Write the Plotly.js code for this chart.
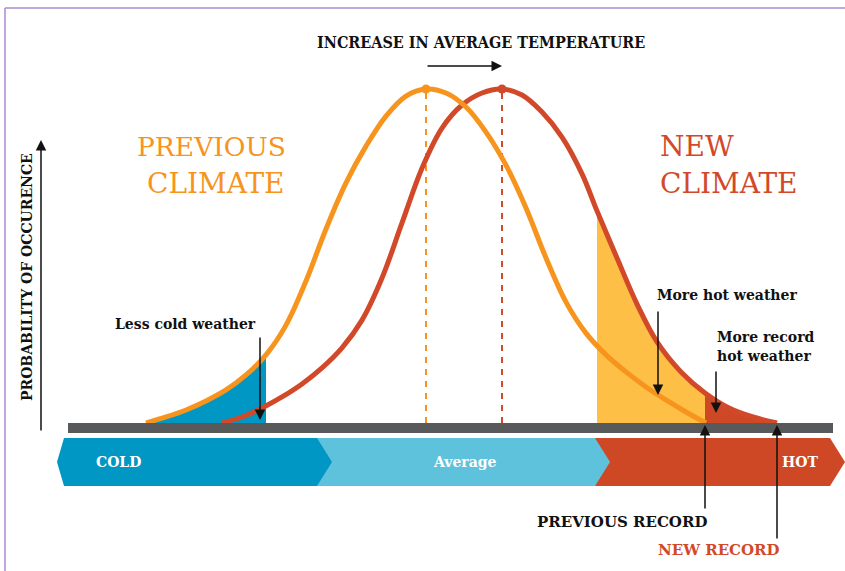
<!DOCTYPE html>
<html>
<head>
<meta charset="utf-8">
<script src="https://cdn.plot.ly/plotly-3.0.1.min.js"></script>
<style>html,body{margin:0;padding:0;background:#fff;}#chart{width:845px;height:571px;}</style>
</head>
<body>
<div id="chart"></div>
<script>
// Temperature axis (arbitrary units) and probability of occurrence (peak = 1)
const prevX = [146,166,186,206,226,246,266,286,306,326,346,366,386,406,426,446,466,486,506,526,546,566,586,606,626,646,666,686,706];
const prevY = [0,0.018,0.039,0.066,0.099,0.144,0.204,0.293,0.425,0.581,0.719,0.829,0.919,0.979,1.0,0.988,0.946,0.871,0.772,0.644,0.494,0.362,0.269,0.204,0.153,0.108,0.069,0.033,0];
const newX  = [222,242,262,282,302,322,342,362,382,402,422,442,462,482,502,522,542,562,582,597,617,637,657,681,705,729,753,777];
const newY  = [0,0.018,0.045,0.078,0.117,0.165,0.225,0.308,0.434,0.599,0.763,0.883,0.952,0.988,1.0,0.982,0.931,0.856,0.746,0.635,0.494,0.356,0.243,0.153,0.090,0.045,0.018,0];
const prevMean = 426, newMean = 502, peakProb = 1.0;
const coldLimit = 266, hotLimit = 597, previousRecord = 705, newRecord = 777;
const bandLabels = ["COLD", "Average", "HOT"];
const climateLabels = [["PREVIOUS","CLIMATE"],["NEW","CLIMATE"]];

const ORANGE = "#f7941d", RED = "#d2492a", BLUE = "#0097c4", LBLUE = "#5fc2dc", HOTC = "#cf4826", YEL = "#fdbf45", GRAY = "#58595b";
const W = 845, H = 571;
const py = p => 1 - p / H;             // pixel row -> paper y
const SERIF = "DejaVu Serif";

function sub(xs, ys, lo, hi) {
  const x = [], y = [];
  xs.forEach((v, i) => { if (v >= lo && v <= hi) { x.push(v); y.push(ys[i]); } });
  return {x, y};
}
const cold = sub(prevX, prevY, 0, coldLimit);
const hot = sub(newX, newY, hotLimit, previousRecord);
const rec = sub(newX, newY, previousRecord, newRecord);
const SM = 1;

const traces = [
  {x: cold.x, y: cold.y, mode: "lines", line: {width: 0, shape: "spline", smoothing: SM}, fill: "tozeroy", fillcolor: BLUE, hoverinfo: "skip"},
  {x: hot.x, y: hot.y, mode: "lines", line: {width: 0, shape: "spline", smoothing: SM}, fill: "tozeroy", fillcolor: YEL, hoverinfo: "skip"},
  {x: rec.x, y: rec.y, mode: "lines", line: {width: 0, shape: "spline", smoothing: SM}, fill: "tozeroy", fillcolor: HOTC, hoverinfo: "skip"},
  {x: [prevMean, prevMean], y: [0, peakProb], mode: "lines", line: {color: ORANGE, width: 2, dash: "6px,6px"}},
  {x: [newMean, newMean], y: [0, peakProb], mode: "lines", line: {color: RED, width: 2, dash: "6px,6px"}},
  {x: newX, y: newY, mode: "lines", line: {color: RED, width: 5, shape: "spline", smoothing: SM}},
  {x: prevX, y: prevY, mode: "lines", line: {color: ORANGE, width: 5, shape: "spline", smoothing: SM}},
  {x: [prevMean], y: [peakProb], mode: "markers", marker: {color: ORANGE, size: 9}},
  {x: [newMean], y: [peakProb], mode: "markers", marker: {color: RED, size: 9}}
];

const shapes = [
  {type: "line", xref: "paper", yref: "paper", x0: 5/W, x1: 5/W, y0: py(8), y1: 0, line: {color: "#a98bd0", width: 1.5}},
  {type: "line", xref: "paper", yref: "paper", x0: 5/W, x1: 1, y0: py(8), y1: py(8), line: {color: "#a98bd0", width: 1.5}},
  {type: "rect", xref: "x", yref: "paper", x0: 68, x1: 833, y0: py(423), y1: py(433), fillcolor: GRAY, line: {width: 0}},
];
function band(pts, color) {
  const d = pts.map((p, i) => (i ? "L" : "M") + (p[0] / W).toFixed(5) + "," + py(p[1]).toFixed(5)).join(" ") + " Z";
  return {type: "path", xref: "paper", yref: "paper", path: d, fillcolor: color, line: {width: 0}};
}
shapes.push(band([[595,438],[830,438],[845,462],[830,486],[595,486]], HOTC));
shapes.push(band([[317,438],[595,438],[610,462],[595,486],[317,486]], LBLUE));
shapes.push(band([[64,438],[317,438],[332,462],[317,486],[64,486],[57,462]], BLUE));

const F = (size, color, bold) => ({family: SERIF, size: size, color: color, weight: bold ? "bold" : "normal"});
function txt(x, yp, text, opts) {
  return Object.assign({x: x, y: py(yp), xref: "x", yref: "paper", text: text, showarrow: false,
    font: F(14, "#111", true), xanchor: "center", yanchor: "middle"}, opts || {});
}
function arrow(x, tipY, tailY, axOff) {
  return {x: x, y: py(tipY), xref: "x", yref: "paper", ax: axOff || 0, ay: tailY - tipY, axref: "pixel", ayref: "pixel",
    showarrow: true, arrowhead: 2, arrowsize: 1.4, arrowwidth: 1.5, arrowcolor: "#111", standoff: 0, text: ""};
}

const annotations = [
  txt(481, 42, "INCREASE IN AVERAGE TEMPERATURE", {font: {family: "DejaVu Serif Condensed, DejaVu Serif", size: 16, color: "#111", weight: "bold"}}),
  arrow(newMean, 66, 66, prevMean - newMean),
  txt(288, 146, climateLabels[0][0], {xanchor: "right", font: F(26.5, ORANGE, false)}),
  txt(287, 183, climateLabels[0][1], {xanchor: "right", font: F(28, ORANGE, false)}),
  txt(658, 146, climateLabels[1][0], {xanchor: "left", font: F(28, RED, false)}),
  txt(658, 183, climateLabels[1][1], {xanchor: "left", font: F(28, RED, false)}),
  txt(27, 277, "PROBABILITY OF OCCURENCE", {textangle: -90, font: F(14, "#111", true)}),
  arrow(41, 140, 432),
  txt(185, 324, "Less cold weather"),
  arrow(260, 420, 336),
  txt(727, 295, "More hot weather"),
  arrow(658, 395, 310),
  txt(715, 337, "More record", {xanchor: "left"}),
  txt(715, 356, "hot weather", {xanchor: "left"}),
  arrow(716, 413, 370),
  txt(622, 522, "PREVIOUS RECORD", {font: F(15, "#111", true)}),
  arrow(previousRecord, 425, 510),
  txt(719, 550, "NEW RECORD", {font: F(15, RED, true)}),
  arrow(newRecord, 425, 540),
  txt(118, 462, bandLabels[0], {font: F(14, "#fff", true)}),
  txt(465, 462, bandLabels[1], {font: F(14, "#fff", true)}),
  txt(800, 462, bandLabels[2], {font: F(14, "#fff", true)})
];

const layout = {
  width: W, height: H, margin: {l: 0, r: 0, t: 0, b: 0},
  paper_bgcolor: "#fff", plot_bgcolor: "#fff", showlegend: false,
  xaxis: {range: [0, W], visible: false, fixedrange: true},
  yaxis: {range: [(423 - H) / 334, 423 / 334], visible: false, fixedrange: true},
  shapes: shapes, annotations: annotations
};
Plotly.newPlot("chart", traces, layout, {staticPlot: true, displayModeBar: false});
</script>
</body>
</html>
